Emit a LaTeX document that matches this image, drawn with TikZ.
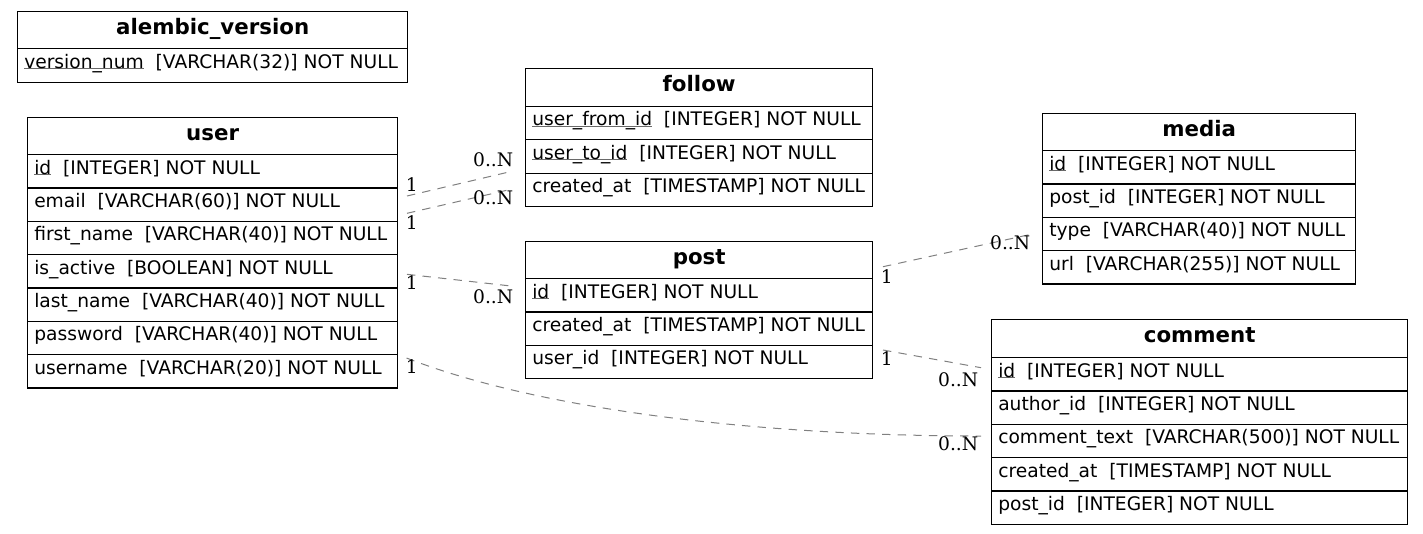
\documentclass[tikz,border=0pt]{standalone}
\usepackage{fontspec}
\setmainfont{DejaVu Sans}
\newfontfamily\lblfont{DejaVu Serif}

\definecolor{edgegrey}{RGB}{128,128,128}
\definecolor{pkgrey}{RGB}{105,105,105}

\newlength\pkwd
\newcommand\pkey[1]{\settowidth{\pkwd}{#1}\makebox[0pt][l]{\textcolor{pkgrey}{\rule[-1pt]{\pkwd}{0.75pt}}}#1}
\newcommand\tsep{\hspace{8.9pt}}

\tikzset{
  x=0.75pt, y=-0.75pt,
  cellbox/.style={draw=black, line width=1pt, inner sep=0pt, anchor=north west},
  headtext/.style={font=\fontsize{16}{19}\selectfont\bfseries, anchor=base, inner sep=0pt},
  rowtext/.style={font=\fontsize{14}{17}\selectfont, anchor=base west, inner sep=0pt},
  card/.style={font=\fontsize{14}{17}\selectfont\lblfont, inner sep=0pt},
  rel/.style={draw=edgegrey, line width=0.75pt, dash pattern=on 6.3pt off 5.4pt},
}

\newcommand\thead[6]{% name x y w h title
  \node[cellbox, minimum width=#4*0.75pt, minimum height=#5*0.75pt] (#1) at (#2,#3) {};
  \node[headtext] (#1-t) at ([shift={(0,23)}]#1.north) {#6};}
\newcommand\trow[6]{% name x y w h text
  \node[cellbox, minimum width=#4*0.75pt, minimum height=#5*0.75pt] (#1) at (#2,#3) {};
  \node[rowtext] (#1-t) at ([shift={(7,20)}]#1.north west) {#6};}

\begin{document}
\begin{tikzpicture}
\useasboundingbox (0,0) rectangle (1423,533);

% alembic_version
\thead{alembic}{17}{11}{390}{37}{alembic\_version}
\trow{alembic-r1}{17}{48}{390}{34}{\pkey{version\_num}\tsep[VARCHAR(32)] NOT NULL}

% user
\thead{user}{27}{117}{370}{37}{user}
\trow{user-r1}{27}{154}{370}{33.3}{\pkey{id}\tsep[INTEGER] NOT NULL}
\trow{user-r2}{27}{187.3}{370}{33.3}{email\tsep[VARCHAR(60)] NOT NULL}
\trow{user-r3}{27}{220.6}{370}{33.3}{first\_name\tsep[VARCHAR(40)] NOT NULL}
\trow{user-r4}{27}{254}{370}{33.3}{is\_active\tsep[BOOLEAN] NOT NULL}
\trow{user-r5}{27}{287.3}{370}{33.3}{last\_name\tsep[VARCHAR(40)] NOT NULL}
\trow{user-r6}{27}{320.6}{370}{33.3}{password\tsep[VARCHAR(40)] NOT NULL}
\trow{user-r7}{27}{354}{370}{33.3}{username\tsep[VARCHAR(20)] NOT NULL}

% follow
\thead{follow}{525}{68}{347}{37.7}{follow}
\trow{follow-r1}{525}{105.7}{347}{33.4}{\pkey{user\_from\_id}\tsep[INTEGER] NOT NULL}
\trow{follow-r2}{525}{139.1}{347}{33.4}{\pkey{user\_to\_id}\tsep[INTEGER] NOT NULL}
\trow{follow-r3}{525}{172.5}{347}{33.4}{created\_at\tsep[TIMESTAMP] NOT NULL}

% post
\thead{post}{525}{241}{347}{37}{post}
\trow{post-r1}{525}{278}{347}{33.3}{\pkey{id}\tsep[INTEGER] NOT NULL}
\trow{post-r2}{525}{311.3}{347}{33.3}{created\_at\tsep[TIMESTAMP] NOT NULL}
\trow{post-r3}{525}{344.6}{347}{33.3}{user\_id\tsep[INTEGER] NOT NULL}

% media
\thead{media}{1042}{113}{313}{37}{media}
\trow{media-r1}{1042}{150}{313}{33.3}{\pkey{id}\tsep[INTEGER] NOT NULL}
\trow{media-r2}{1042}{183.3}{313}{33.3}{post\_id\tsep[INTEGER] NOT NULL}
\trow{media-r3}{1042}{216.6}{313}{33.3}{type\tsep[VARCHAR(40)] NOT NULL}
\trow{media-r4}{1042}{250}{313}{33.3}{url\tsep[VARCHAR(255)] NOT NULL}

% comment
\thead{comment}{991}{319}{416}{38}{comment}
\trow{comment-r1}{991}{357}{416}{33.3}{\pkey{id}\tsep[INTEGER] NOT NULL}
\trow{comment-r2}{991}{390.3}{416}{33.3}{author\_id\tsep[INTEGER] NOT NULL}
\trow{comment-r3}{991}{423.6}{416}{33.3}{comment\_text\tsep[VARCHAR(500)] NOT NULL}
\trow{comment-r4}{991}{457}{416}{33.3}{created\_at\tsep[TIMESTAMP] NOT NULL}
\trow{comment-r5}{991}{490.3}{416}{33.3}{post\_id\tsep[INTEGER] NOT NULL}

% connector end points
\coordinate (eA1) at (407,196);   \coordinate (eA2) at (511,171.5);
\coordinate (eB1) at (407,213.3); \coordinate (eB2) at (511,189.3);
\coordinate (eC1) at (407,274.3); \coordinate (eC2) at (511,286);
\coordinate (eD1) at (883,266.7); \coordinate (eD2) at (1031,234.3);
\coordinate (eE1) at (883,350);   \coordinate (eE2) at (981,367.7);
\coordinate (eF1) at (406.5,358); \coordinate (eF2) at (981,436);

\draw[rel] (eA1) -- (eA2);
\draw[rel] (eB1) -- (eB2);
\draw[rel] (eC1) -- (eC2);
\draw[rel] (eD1) -- (eD2);
\draw[rel] (eE1) -- (eE2);
\draw[rel] (eF1) .. controls (540,410) and (760,436) .. (eF2);

% cardinality labels
\node[card, anchor=base west] (lA1) at (405.5,191.7) {1};
\node[card, anchor=base east] (lA2) at (513.5,166.7) {0..N};
\node[card, anchor=base west] (lB1) at (405.5,229.3) {1};
\node[card, anchor=base east] (lB2) at (513.5,204.3) {0..N};
\node[card, anchor=base west] (lC1) at (405.5,289) {1};
\node[card, anchor=base east] (lC2) at (513.5,303.3) {0..N};
\node[card, anchor=base west] (lD1) at (880.5,283.3) {1};
\node[card, anchor=base east] (lD2) at (1030.5,249.3) {0..N};
\node[card, anchor=base west] (lE1) at (880.5,365) {1};
\node[card, anchor=base east] (lE2) at (978.5,386.7) {0..N};
\node[card, anchor=base west] (lF1) at (405.5,373.3) {1};
\node[card, anchor=base east] (lF2) at (978.5,450) {0..N};
\end{tikzpicture}
\end{document}
